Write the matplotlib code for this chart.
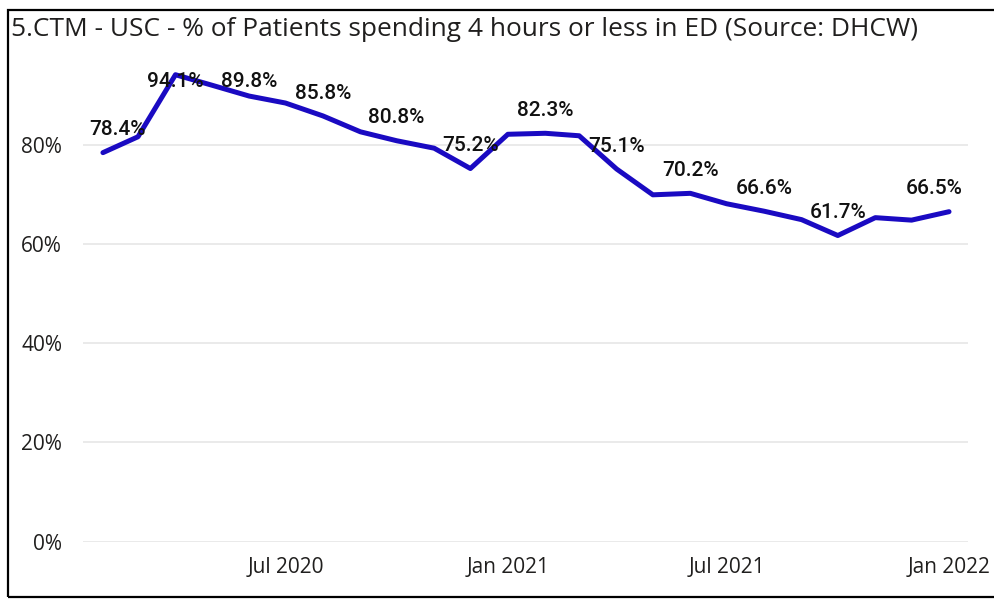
import numpy as np
import pandas as pd
import matplotlib
matplotlib.use("Agg")
import matplotlib.pyplot as plt
import matplotlib.dates as mdates
from matplotlib.patches import Rectangle

title = "5.CTM - USC - % of Patients spending 4 hours or less in ED (Source: DHCW)"
months = pd.date_range("2020-02-01", "2022-01-01", freq="MS")
pct = [78.4, 81.6, 94.1, 92.0, 89.8, 88.4, 85.8, 82.6, 80.8, 79.3, 75.2, 82.1,
       82.3, 81.8, 75.1, 69.9, 70.2, 68.1, 66.6, 64.9, 61.7, 65.3, 64.8, 66.5]
labelled = [0, 2, 4, 6, 8, 10, 12, 14, 16, 18, 20, 23]
yticks = [0, 20, 40, 60, 80]
xticks = pd.to_datetime(["2020-07-01", "2021-01-01", "2021-07-01", "2022-01-01"])
xtick_labels = ["Jul 2020", "Jan 2021", "Jul 2021", "Jan 2022"]

fig = plt.figure(figsize=(9.95, 5.99), dpi=100)
fig.patches.append(Rectangle((8 / 995, 2 / 599), 1.2, 587 / 599, transform=fig.transFigure,
                             fill=False, edgecolor="black", linewidth=1.6))
fig.text(11 / 995, 1 - 30 / 599, title, fontsize=18.9, family="Open Sans",
         color="#201f1e", va="center", ha="left")

ax = fig.add_axes([83 / 995, (599 - 541.7) / 599, (968 - 83) / 995, (541.7 - 65.3) / 599])
ax.plot(months, pct, color="#1a0ac2", linewidth=3.6, solid_joinstyle="round", solid_capstyle="round")

ax.set_ylim(0, 96)
ax.set_xlim(months[0] - pd.Timedelta(days=16.5), months[-1] + pd.Timedelta(days=15.7))
ax.set_yticks(yticks)
ax.set_yticklabels([f"{v}%" for v in yticks])
ax.set_xticks(xticks)
ax.set_xticklabels(xtick_labels)
ax.grid(axis="y", color="#e6e6e6", linewidth=1.2)
ax.set_axisbelow(True)
for s in ax.spines.values():
    s.set_visible(False)
ax.tick_params(length=0, labelsize=15, labelcolor="#201f1e", pad=0)
ax.tick_params(axis="y", pad=15)
ax.tick_params(axis="x", pad=11)
for t in ax.get_xticklabels() + ax.get_yticklabels():
    t.set_family("Open Sans")

for i in labelled:
    v = pct[i]
    ly = min(v + 4.6, 92.7)
    ha, dx = "center", 0
    if i == 0:
        ha, dx = "left", -9.5
    elif i == len(pct) - 1:
        ha, dx = "right", 9.5
    ax.annotate(f"{v}%", (months[i], ly), xytext=(dx, 0), textcoords="offset points",
                ha=ha, va="center", fontsize=15, family="Roboto", fontweight="medium",
                color="#111111")

fig.savefig("out.png", dpi=100)
